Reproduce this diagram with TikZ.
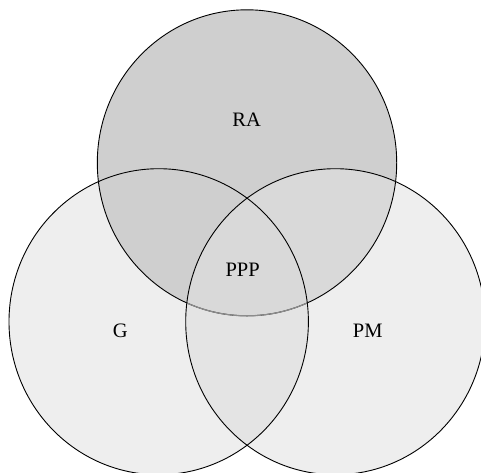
\documentclass[tikz,border=0pt]{standalone}
\usepackage{fontspec}
\setmainfont{Liberation Serif}
\usepackage{tikz}
\usetikzlibrary{positioning}
\definecolor{fillRA}{HTML}{CFCFCF}
\definecolor{fillRAPM}{HTML}{D9D9D9}
\definecolor{fillGPM}{HTML}{E4E4E4}
\definecolor{fillSet}{HTML}{EEEEEE}
\definecolor{lineInner}{HTML}{8C8C8C}
\tikzset{
x=1pt, y=-1pt, % pixel-like units, y pointing down
every node/.style={font=\fontsize{20.5}{24}\selectfont}, % sets the labels
setline/.style={draw=black, line width=0.9pt}, % outline of each set
}
\def\pathRA{(247,162.8) ellipse [x radius=149.7pt, y radius=153pt]}
\def\pathG{(158.7,321.7) ellipse [x radius=149.7pt, y radius=153pt]}
\def\pathPM{(335.4,321.7) ellipse [x radius=149.7pt, y radius=153pt]}

\begin{document}
\begin{tikzpicture}
                \useasboundingbox (0,0) rectangle (481,472);
                \clip (0,0) rectangle (481,472);
                % fills
                \fill[fillSet] \pathG;
                \fill[fillSet] \pathPM;
                \begin{scope}
                    \clip \pathG;
                    \fill[fillGPM] \pathPM;
                \end{scope}
                \fill[fillRA] \pathRA;
                \begin{scope}
                    \clip \pathRA;
                    \fill[fillRAPM] \pathPM;
                \end{scope}
                % outlines
                \draw[setline] \pathRA;
                \begin{scope}
                    \clip \pathG;
                    \clip \pathPM;
                    \draw[setline, draw=lineInner, line width=1.2pt] \pathRA;
                \end{scope}
                \draw[setline] \pathG;
                \draw[setline] \pathPM;
                % labels
                \node (ra) at (246.7,119.5) {RA};
                \node (ppp) at (242.6,270) {PPP};
                \node (g) at (120.3,330.5) {G};
                \node (pm) at (367.7,330.5) {PM};
\end{tikzpicture}
\end{document}
